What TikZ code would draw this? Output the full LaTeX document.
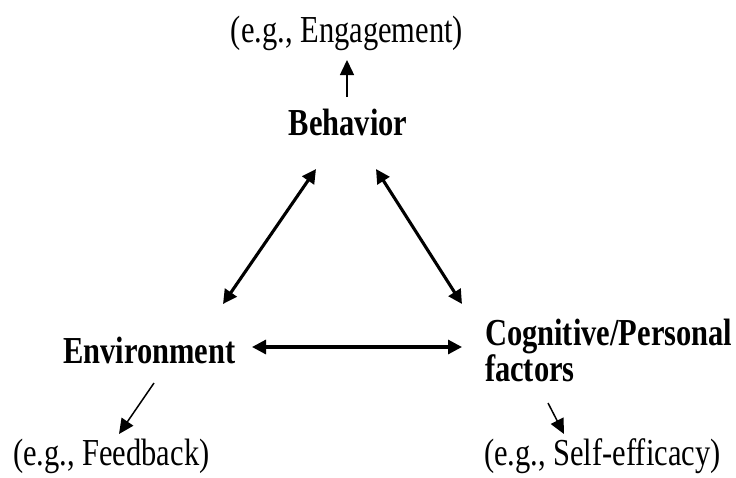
\documentclass[tikz,border=0pt]{standalone}
\usepackage{fontspec}
\setmainfont{Liberation Serif}
\usetikzlibrary{arrows.meta}
\newcommand{\tallbox}[1]{\scalebox{1}[1.25]{#1}}
\begin{document}
\begin{tikzpicture}[x=1pt,y=-1pt,
  txt/.style={inner sep=0pt,outer sep=0pt,font=\fontsize{30.5}{35}\selectfont},
  bold/.style={txt,font=\fontsize{30.5}{35}\selectfont\bfseries},
  thick arrow/.style={line width=3.1pt,{Triangle[length=14pt,width=14pt]}-{Triangle[length=14pt,width=14pt]}},
  thin arrow/.style={line width=1.5pt,-{Triangle[length=15pt,width=14pt]}}]
\useasboundingbox (0,0) rectangle (736,477);
% texts
\node[txt,anchor=base] (eng) at (347,42) {\tallbox{(e.g., Engagement)}};
\node[bold,anchor=base] (beh) at (348,135) {\tallbox{Behavior}};
\node[bold,anchor=base west] (env) at (63,363) {\tallbox{Environment}};
\node[bold,anchor=base west] (cog) at (485,345) {\vtop{\baselineskip=35pt\hbox{\tallbox{Cognitive/Personal}}\hbox{\tallbox{factors}}}};
\node[txt,anchor=base west] (fb) at (13,465) {\tallbox{(e.g., Feedback)}};
\node[txt,anchor=base west] (se) at (484,465) {\tallbox{(e.g., Self-efficacy)}};
% arrow end points
\coordinate (engArr) at (347,60);
\coordinate (behUp) at (347,97);
\coordinate (behL) at (316,169);
\coordinate (behR) at (376,169);
\coordinate (envUp) at (223,304);
\coordinate (cogUp) at (462,304);
\coordinate (envR) at (252,347);
\coordinate (cogL) at (462,347);
\coordinate (envDown) at (154,383);
\coordinate (fbArr) at (119,434);
\coordinate (cogDown) at (548,403);
\coordinate (seArr) at (564,434);
% connectors
\draw[thin arrow] (behUp) -- (engArr);
\draw[thick arrow] (envUp) -- (behL);
\draw[thick arrow] (behR) -- (cogUp);
\draw[thick arrow] (envR) -- (cogL);
\draw[thin arrow] (envDown) -- (fbArr);
\draw[thin arrow] (cogDown) -- (seArr);
\end{tikzpicture}
\end{document}
